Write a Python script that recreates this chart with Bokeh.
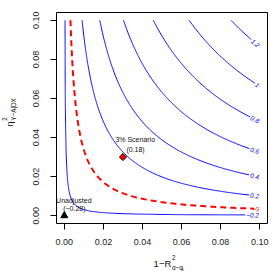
import numpy as np
import contourpy
from bokeh.plotting import figure
from bokeh.models import Label, FixedTicker
from bokeh.layouts import row, column
from bokeh.embed import file_html
from bokeh.resources import INLINE

# ---------------- data ----------------
x_ticks = [0.0, 0.02, 0.04, 0.06, 0.08, 0.10]
x_tick_labels = ["0.00", "0.02", "0.04", "0.06", "0.08", "0.10"]
y_ticks = [0.0, 0.02, 0.04, 0.06, 0.08, 0.10]
y_tick_labels = ["0.00", "0.02", "0.04", "0.06", "0.08", "0.10"]

levels = [-0.2, 0.0, 0.2, 0.4, 0.6, 0.8, 1.0, 1.2]
level_labels = ["\u22120.2", "0", "0.2", "0.4", "0.6", "0.8", "1", "1.2"]
threshold_level = 0.0

estimate = -0.285          # unadjusted estimate
bias_scale = 15.25         # scale of the confounding bias bound
grid_max = 0.10

point_x = [0.0, 0.03]
point_y = [0.0, 0.03]
point_names = ["Unadjusted", "3% Scenario"]
point_values = ["(\u22120.28)", "(0.18)"]

# ---------------- surface ----------------
gx = np.linspace(0, grid_max, 201)
gy = np.linspace(0, grid_max, 201)
X, Y = np.meshgrid(gx, gy)
Z = estimate + bias_scale * np.sqrt(X * Y / (1 - Y))
cg = contourpy.contour_generator(gx, gy, Z, line_type="Separate")

FONT = "Liberation Sans"
XR = (-0.004, 0.104)
YR = (-0.004, 0.104)
W, H = 279, 279
YLAB_W = 18
XLAB_H = 27
FL, FT, FW = 56, 12, 211          # frame left/top/size in page pixels

MW, MH = W - YLAB_W, H - XLAB_H
p = figure(width=MW, height=MH, x_range=XR, y_range=YR,
           output_backend="svg", toolbar_location=None,
           min_border_left=FL - YLAB_W, min_border_right=W - FL - FW,
           min_border_top=FT, min_border_bottom=MH - FT - FW)
p.xgrid.visible = False
p.ygrid.visible = False
p.outline_line_color = "black"
p.outline_line_width = 1
p.background_fill_color = "white"
p.border_fill_color = "white"

for ax, ticks, labs in ((p.xaxis, x_ticks, x_tick_labels), (p.yaxis, y_ticks, y_tick_labels)):
    ax.ticker = FixedTicker(ticks=ticks)
    ax.major_label_overrides = {t: l for t, l in zip(ticks, labs)}
    ax.axis_line_color = None
    ax.major_tick_line_color = "black"
    ax.major_tick_out = 6
    ax.major_tick_in = 0
    ax.minor_tick_line_color = None
    ax.major_label_text_font = FONT
    ax.major_label_text_font_size = "9px"
    ax.major_label_text_color = "#222222"
p.xaxis.major_label_standoff = 9
p.yaxis.major_label_standoff = 11
p.yaxis.major_label_orientation = "vertical"

ppu = FW / (XR[1] - XR[0])

def dx(px):
    return XR[0] + (px - FL) / ppu

CW = {"1": .556, "\u2212": .584, "R": .722, "2": .556, "\u03b1": .58, "~": .584, "s": .5,
      "\u03b7": .556, "Y": .667, "A": .667, "|": .26, "D": .722, "X": .667, "0": .556,
      ".": .278}

def tw(t, fs):
    return sum(CW.get(c, .556) for c in t) * fs

# contour lines and labels
x_right = dx(258.5)
for lev, lab_t in zip(levels, level_labels):
    lines = cg.lines(lev)
    if not lines:
        continue
    is_thr = (lev == threshold_level)
    col = "red" if is_thr else "blue"
    p.multi_line(xs=[l[:, 0] for l in lines], ys=[l[:, 1] for l in lines],
                 line_color=col, line_width=2 if is_thr else 1,
                 line_dash="6 4" if is_thr else "solid")
    ln = max(lines, key=len)
    order = np.argsort(ln[:, 0])
    lx, ly = ln[order, 0], ln[order, 1]
    fs = 6.5
    w = tw(lab_t, fs) / ppu
    ang = 0.0
    for _ in range(3):
        cx = x_right - w * abs(np.cos(ang)) / 2
        cy = np.interp(cx, lx, ly)
        h = 0.001
        slope = (np.interp(cx + h, lx, ly) - np.interp(cx - h, lx, ly)) / (2 * h)
        ang = float(np.arctan(slope))
    p.add_layout(Label(x=cx, y=cy, text=lab_t, angle=ang, text_align="center",
                       text_baseline="middle", text_font=FONT, text_font_style="italic",
                       text_font_size=f"{fs}px", text_color=col,
                       background_fill_color="white", padding=1))

# points
p.scatter([point_x[0]], [point_y[0]], marker="triangle", size=7, color="black")
p.scatter([point_x[1]], [point_y[1]], marker="square", angle=np.pi / 4, size=5,
          fill_color="red", line_color="black", line_width=1)

offs = [((9.5, 15.5), (10.0, 7.0)), ((12.3, 17.7), (12.6, 7.7))]
for i in range(2):
    for t, (ox, oy) in zip((point_names[i], point_values[i]), offs[i]):
        p.add_layout(Label(x=point_x[i], y=point_y[i], x_offset=ox, y_offset=oy, text=t,
                           text_align="center", text_baseline="middle", text_font=FONT,
                           text_font_size="7px", text_color="#111111"))

# ---------------- axis title panels ----------------
def text_panel(w, h):
    f = figure(width=w, height=h, x_range=(0, w), y_range=(0, h), min_border=0,
               min_border_left=0, min_border_right=0, min_border_top=0, min_border_bottom=0,
               output_backend="svg", toolbar_location=None,
               x_axis_location=None, y_axis_location=None)
    f.outline_line_color = None
    f.xgrid.visible = False
    f.ygrid.visible = False
    f.border_fill_color = "white"
    return f

xl = text_panel(MW, XLAB_H)
yl = text_panel(YLAB_W, H)

def put(fig, ox, oy, fh, px, py, t, fs, ang=0.0, align="left"):
    fig.add_layout(Label(x=px - ox, y=fh - (py - oy), text=t, angle=ang,
                         text_align=align, text_baseline="middle", text_font=FONT,
                         text_font_size=f"{fs}px", text_color="#111111"))

# x axis title: 1−R^2_{α~α_s}   (main part right-aligned at the junction)
XO, YO = YLAB_W, MH
xj = 160.0
put(xl, XO, YO, XLAB_H, xj, 263, "1\u2212R", 9.5, align="right")
put(xl, XO, YO, XLAB_H, xj + 0.8, 257, "2", 6.3)
put(xl, XO, YO, XLAB_H, xj + 0.8, 266.5, "\u03b1~\u03b1", 6.3)
x2 = xj + 0.8 + tw("\u03b1~\u03b1", 6.3) + 0.5
put(xl, XO, YO, XLAB_H, x2, 268.5, "s", 4.5)

# y axis title: η^2_{Y~A|DX}   (η right-aligned, i.e. ends, at the junction)
yj = 121.0
put(yl, 0, 0, H, 8.5, yj, "\u03b7", 9.5, np.pi / 2, align="right")
put(yl, 0, 0, H, 3.5, yj - 0.8, "2", 6.3, np.pi / 2)
put(yl, 0, 0, H, 12.5, yj - 0.8, "Y~A|DX", 6.3, np.pi / 2)

layout = row(yl, column(p, xl, spacing=0), spacing=0)
open("out.html", "w").write(file_html(layout, INLINE))
